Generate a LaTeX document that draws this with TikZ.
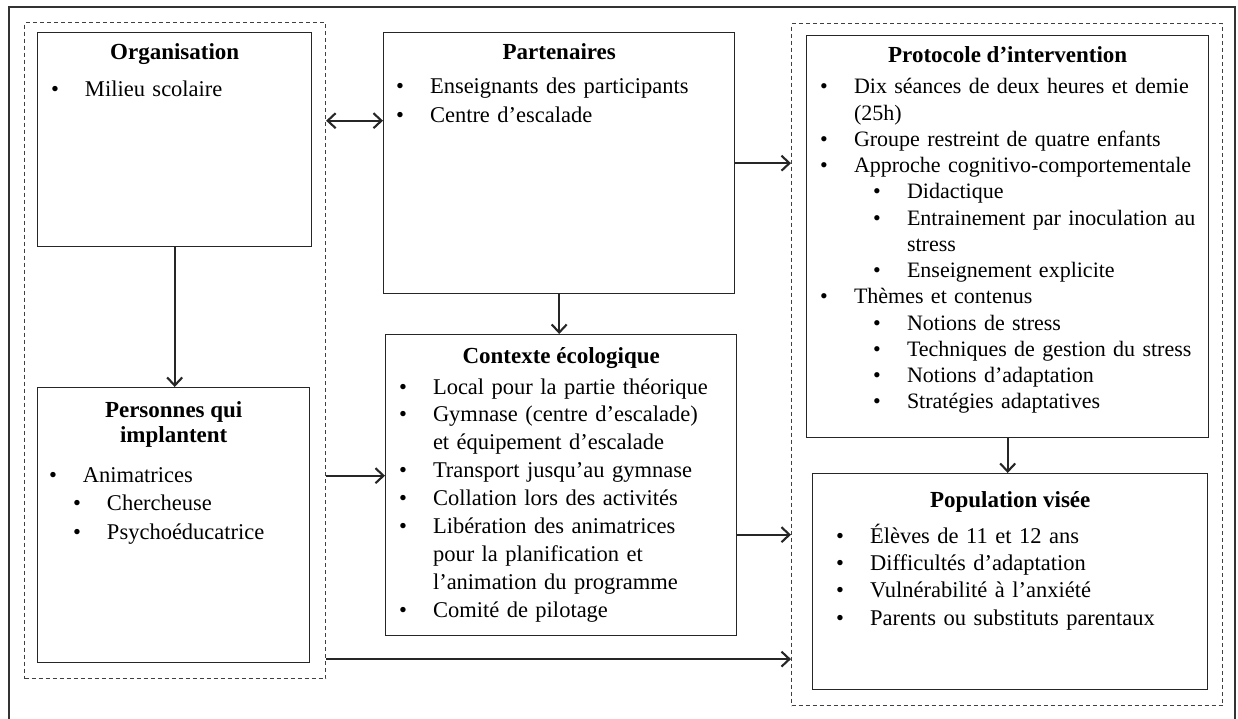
\documentclass[tikz,border=0pt]{standalone}
\usepackage{fontspec}
\setmainfont{Liberation Serif}
\usetikzlibrary{arrows.meta}

\newcommand{\itm}[2][0pt]{\noindent\hspace*{#1}\makebox[34pt][l]{\textbullet}\rule{0pt}{16pt}#2\par}
\newcommand{\cnt}[2][0pt]{\noindent\hspace*{\dimexpr#1+34pt\relax}#2\par}

\begin{document}
\begin{tikzpicture}[
x=1pt, y=-1pt,
every node/.style={font=\fontsize{22.5}{27.9}\selectfont},
box/.style={rectangle, draw=black!85, line width=1.4pt, anchor=north west, inner sep=0pt},
group/.style={rectangle, draw=black!75, line width=1.1pt, dash pattern=on 4pt off 3pt, anchor=north west, inner sep=0pt},
ttl/.style={font=\fontsize{23}{25.5}\selectfont\bfseries, anchor=north, align=center, inner sep=0pt, outer sep=0pt},
txt/.style={anchor=north west, align=left, inner sep=0pt, outer sep=0pt, text width=#1},
arrow/.style={-{Straight Barb[length=8pt, width=15pt]}, line width=2.1pt, black!85},
dblarrow/.style={{Straight Barb[length=8pt, width=15pt]}-{Straight Barb[length=8pt, width=15pt]}, line width=2.1pt, black!85}
]

\useasboundingbox (0,0) rectangle (1238,719);
\draw[line width=2pt, black!80] (9,730) -- (9,7) -- (1235,7) -- (1235,730);

\node[group, minimum width=301pt, minimum height=656pt] (lgrp) at (24,22) {};
\node[group, minimum width=431pt, minimum height=682pt] (rgrp) at (791,23) {};

\node[box, minimum width=274pt, minimum height=214pt] (org) at (37,32) {};
\node[box, minimum width=272pt, minimum height=275pt] (pers) at (37,387) {};
\node[box, minimum width=351pt, minimum height=261pt] (part) at (383,32) {};
\node[box, minimum width=351pt, minimum height=301pt] (ctx) at (385,334) {};
\node[box, minimum width=402pt, minimum height=402pt] (prot) at (806,35) {};
\node[box, minimum width=395pt, minimum height=216pt] (pop) at (812,473) {};

\node[ttl] (org title) at ([yshift=-12pt]org.north) {\rule{0pt}{16pt}Organisation};
\node[txt=255pt] (org text) at ([xshift=14pt, yshift=-49pt]org.north west) {\itm{Milieu scolaire}};

\node[ttl] (pers title) at ([yshift=-14pt]pers.north) {\rule{0pt}{16pt}Personnes qui\\implantent};
\node[txt=255pt, font=\fontsize{22.5}{28.5}\selectfont] (pers text) at ([xshift=12pt, yshift=-79pt]pers.north west)
{\itm{Animatrices}\itm[24pt]{Chercheuse}\itm[24pt]{Psychoéducatrice}};

\node[ttl] (part title) at ([yshift=-12pt]part.north) {\rule{0pt}{16pt}Partenaires};
\node[txt=333pt, font=\fontsize{22.5}{29}\selectfont] (part text) at ([xshift=13pt, yshift=-46pt]part.north west)
{\itm{Enseignants des participants}\itm{Centre d’escalade}};

\node[ttl] (ctx title) at ([yshift=-13pt]ctx.north) {\rule{0pt}{16pt}Contexte écologique};
\node[txt=332pt] (ctx text) at ([xshift=14pt, yshift=-44pt]ctx.north west)
{\itm{Local pour la partie théorique}\itm{Gymnase (centre d’escalade)}\cnt{et équipement d’escalade}%
\itm{Transport jusqu’au gymnase}\itm{Collation lors des activités}\itm{Libération des animatrices}%
\cnt{pour la planification et}\cnt{l’animation du programme}\itm{Comité de pilotage}};

\node[ttl] (prot title) at ([yshift=-12pt]prot.north) {\rule{0pt}{16pt}Protocole d’intervention};
\node[txt=386pt, font=\fontsize{22}{26.25}\selectfont] (prot text) at ([xshift=14pt, yshift=-43pt]prot.north west)
{\itm{Dix séances de deux heures et demie}\cnt{(25h)}\itm{Groupe restreint de quatre enfants}%
\itm{Approche cognitivo-comportementale}\itm[53pt]{Didactique}\itm[53pt]{Entrainement par inoculation au}%
\cnt[53pt]{stress}\itm[53pt]{Enseignement explicite}\itm{Thèmes et contenus}\itm[53pt]{Notions de stress}%
\itm[53pt]{Techniques de gestion du stress}\itm[53pt]{Notions d’adaptation}\itm[53pt]{Stratégies adaptatives}};

\node[ttl] (pop title) at ([yshift=-18pt]pop.north) {\rule{0pt}{16pt}Population visée};
\node[txt=366pt, font=\fontsize{22.5}{27.3}\selectfont] (pop text) at ([xshift=24pt, yshift=-51pt]pop.north west)
{\itm{Élèves de 11 et 12 ans}\itm{Difficultés d’adaptation}\itm{Vulnérabilité à l’anxiété}\itm{Parents ou substituts parentaux}};

\draw[arrow] (org.south) -- (org.south |- pers.north);
\draw[dblarrow] ([yshift=42.5pt]part.west -| lgrp.east) -- ([yshift=42.5pt]part.west);
\draw[arrow] (part.east) -- (part.east -| rgrp.west);
\draw[arrow] (part.south) -- (part.south |- ctx.north);
\draw[arrow] ([yshift=9.5pt]ctx.west -| lgrp.east) -- ([yshift=9.5pt]ctx.west);
\draw[arrow] ([yshift=-49.5pt]ctx.east) -- ([yshift=-49.5pt]ctx.east -| rgrp.west);
\draw[arrow] ([yshift=20pt]lgrp.south east) -- ([yshift=20pt]lgrp.south east -| rgrp.west);
\draw[arrow] (prot.south) -- (prot.south |- pop.north);

\end{tikzpicture}
\end{document}
